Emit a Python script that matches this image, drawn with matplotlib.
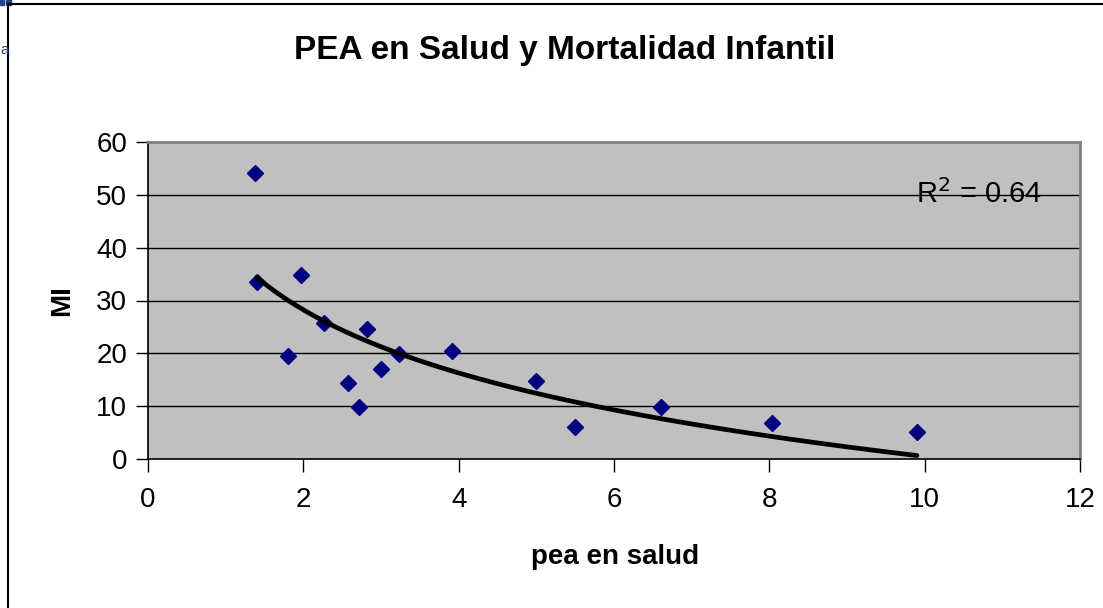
import numpy as np
import matplotlib
matplotlib.use('Agg')
from matplotlib import pyplot as plt
from matplotlib.patches import Rectangle
from matplotlib.lines import Line2D

plt.rcParams['font.family'] = ['Liberation Sans', 'DejaVu Sans']

# datos
pea_salud = [1.38, 1.40, 1.97, 1.80, 2.27, 2.57, 2.72, 2.82, 3.00, 3.23,
             3.92, 4.99, 5.50, 6.60, 8.03, 9.90]
mortalidad = [54.1, 33.5, 34.8, 19.5, 25.7, 14.3, 9.9, 24.7, 17.0, 19.9,
              20.4, 14.8, 6.0, 9.9, 6.9, 5.1]
x_ticks = [0, 2, 4, 6, 8, 10, 12]
y_ticks = [0, 10, 20, 30, 40, 50, 60]
r2_label = 'R$^2$ = 0.64'


def main():
    x = np.array(pea_salud)
    y = np.array(mortalidad)

    fig = plt.figure(figsize=(11.03, 6.08), dpi=100)
    fig.patch.set_facecolor('white')
    ax = fig.add_axes([148/1103, 1-459/608, (1080-148)/1103, (459-142)/608])
    ax.set_facecolor('#C0C0C0')

    # grid horizontal
    for v in y_ticks[1:-1]:
        ax.axhline(v, color='black', lw=1.0, zorder=1)

    ax.plot(x, y, linestyle='none', marker='D', markersize=8.6,
            color='#000080', zorder=3)

    # linea de tendencia logaritmica
    b, a = np.polyfit(np.log(x), y, 1)
    xs = np.linspace(x.min() + 0.02, x.max(), 200)
    ax.plot(xs, a + b*np.log(xs), color='black', lw=3.4, zorder=4,
            solid_capstyle='round')

    ax.text(10.70, 48.4, r2_label, fontsize=21, ha='center', va='baseline',
            zorder=5)

    ax.set_xlim(0, 12)
    ax.set_ylim(0, 60)
    ax.set_xticks(x_ticks)
    ax.set_yticks(y_ticks)
    ax.tick_params(axis='both', direction='out', length=9, width=1,
                   labelsize=20, color='black')
    ax.tick_params(axis='y', pad=6)
    ax.tick_params(axis='x', pad=11)
    for s in ['left', 'bottom']:
        ax.spines[s].set_color('black')
        ax.spines[s].set_linewidth(1.2)
    for s in ['top', 'right']:
        ax.spines[s].set_color('#808080')
        ax.spines[s].set_linewidth(2)

    fig.text(615/1103, 1-557/608, 'pea en salud', fontsize=20,
             fontweight='bold', ha='center', va='center')
    fig.text(62/1103, 1-301/608, 'MI', fontsize=20, fontweight='bold',
             ha='center', va='center', rotation=90)
    fig.text(565/1103, 1-50/608, 'PEA en Salud y Mortalidad Infantil',
             fontsize=24, fontweight='bold', ha='center', va='center')

    # marco del objeto
    fig.add_artist(Line2D([8/1103, 8/1103], [0, 1-4/608], color='black', lw=1.5,
                          transform=fig.transFigure))
    fig.add_artist(Line2D([8/1103, 1], [1-4/608, 1-4/608], color='black', lw=1.5,
                          transform=fig.transFigure))
    fig.add_artist(Rectangle((0, 1-5/608), 4/1103, 5/608, color='#1F3F8F',
                             transform=fig.transFigure))
    fig.add_artist(Rectangle((6/1103, 1-5/608), 5/1103, 5/608, color='#1F3F8F',
                             transform=fig.transFigure))
    fig.text(0, 1-50/608, 'a', color='#1F3F8F', fontsize=11,
             ha='left', va='center')

    plt.savefig('out.png', dpi=100)
    plt.close()


if __name__ == '__main__':
    main()
